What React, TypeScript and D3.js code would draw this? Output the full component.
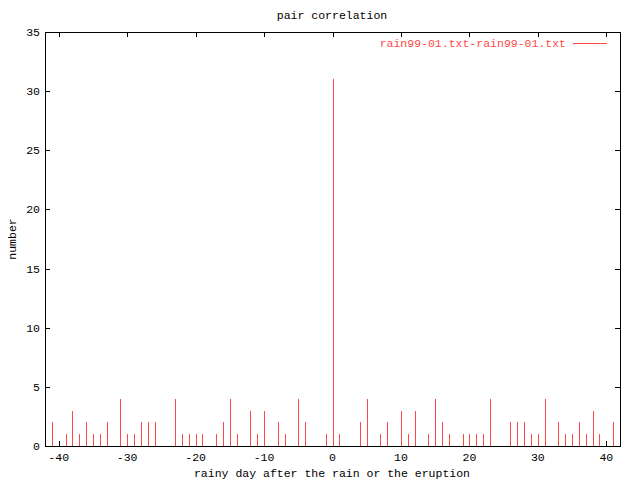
import React from "react";
import * as d3 from "d3";

const lags = [-41, -39, -38, -37, -36, -35, -34, -33, -31, -30, -29, -28, -27, -26, -23, -22, -21, -20, -19, -17, -16, -15, -14, -12, -11, -10, -8, -7, -5, -4, -1, 0, 1, 4, 5, 7, 8, 10, 11, 12, 14, 15, 16, 17, 19, 20, 21, 22, 23, 26, 27, 28, 29, 30, 31, 33, 34, 35, 36, 37, 38, 39, 41];
const counts = [2, 1, 3, 1, 2, 1, 1, 2, 4, 1, 1, 2, 2, 2, 4, 1, 1, 1, 1, 1, 2, 4, 1, 3, 1, 3, 2, 1, 4, 2, 1, 31, 1, 2, 4, 1, 2, 3, 1, 3, 1, 4, 2, 1, 1, 1, 1, 1, 4, 2, 2, 2, 1, 1, 4, 2, 1, 1, 2, 1, 3, 1, 2];
const xTicks = [-40, -30, -20, -10, 0, 10, 20, 30, 40];
const yTicks = [0, 5, 10, 15, 20, 25, 30, 35];
const title = "pair correlation";
const xLabel = "rainy day after the rain or the eruption";
const yLabel = "number";
const seriesName = "rain99-01.txt-rain99-01.txt";

export default function App() {
  const W = 640, H = 480;
  const L = 45, R = 620, T = 32, B = 446;
  const x = d3.scaleLinear().domain([-42, 42]).range([L, R]);
  const y = d3.scaleLinear().domain([0, 35]).range([B, T]);
  const font = "'Liberation Mono', 'DejaVu Sans Mono', monospace";
  const fs = 11.5;
  const red = "#ff4848";
  const px = (v: number) => Math.round(v) + 0.5;
  const tl = 5;
  return (
    <svg width={W} height={H} style={{ position: "absolute", left: 0, top: 0, background: "#fff" }} shapeRendering="crispEdges">
      <rect x={0} y={0} width={W} height={H} fill="#fff" />
      {xTicks.map((t) => (
        <g key={"xt" + t}>
          <line x1={px(x(t))} x2={px(x(t))} y1={B} y2={B - tl} stroke="#000" />
          <line x1={px(x(t))} x2={px(x(t))} y1={T} y2={T + tl} stroke="#000" />
          <text x={x(t)} y={B + 15} textAnchor="middle" fontFamily={font} fontSize={fs}>{t}</text>
        </g>
      ))}
      {yTicks.map((t) => (
        <g key={"yt" + t}>
          <line x1={L} x2={L + tl} y1={px(y(t))} y2={px(y(t))} stroke="#000" />
          <line x1={R} x2={R - tl} y1={px(y(t))} y2={px(y(t))} stroke="#000" />
          <text x={L - 5} y={y(t) + 4} textAnchor="end" fontFamily={font} fontSize={fs}>{t}</text>
        </g>
      ))}
      {lags.map((l, i) => (
        <line key={"b" + i} x1={px(x(l))} x2={px(x(l))} y1={y(0)} y2={y(counts[i])} stroke={red} strokeWidth={1} />
      ))}
      <rect x={L + 0.5} y={T + 0.5} width={R - L} height={B - T} fill="none" stroke="#000" />
      <text x={332} y={19} textAnchor="middle" fontFamily={font} fontSize={fs}>{title}</text>
      <text x={332} y={477} textAnchor="middle" fontFamily={font} fontSize={fs}>{xLabel}</text>
      <text transform={`translate(16,${239}) rotate(-90)`} textAnchor="middle" fontFamily={font} fontSize={fs}>{yLabel}</text>
      <text x={566} y={47} textAnchor="end" fontFamily={font} fontSize={fs} fill={red}>{seriesName}</text>
      <line x1={573} x2={607} y1={43.5} y2={43.5} stroke={red} />
    </svg>
  );
}
